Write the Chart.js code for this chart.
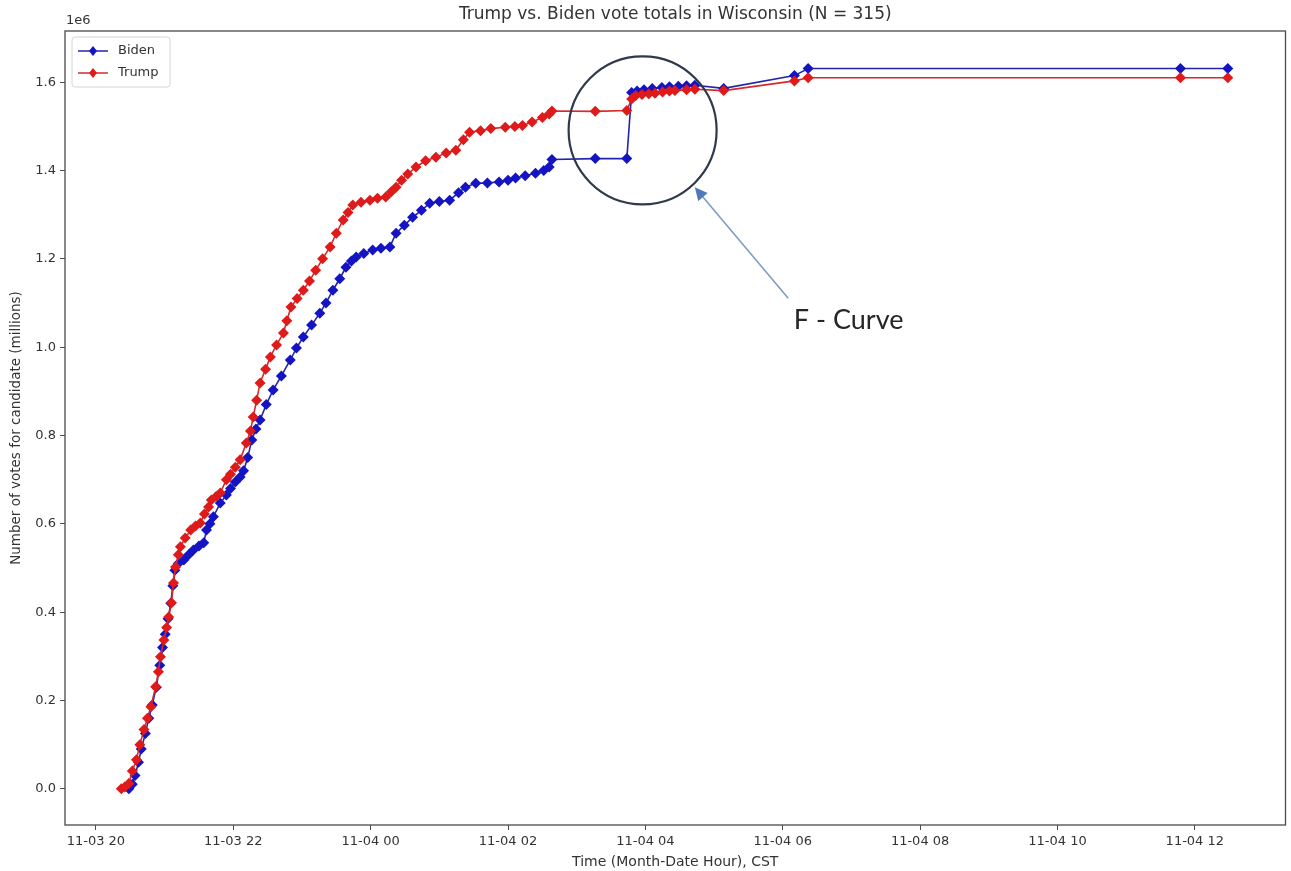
<!DOCTYPE html>
<html>
<head>
<meta charset="utf-8">
<script src="https://cdn.jsdelivr.net/npm/chart.js@4.4.1/dist/chart.umd.min.js"></script>
<style>
	html, body { margin: 0; padding: 0; background: #fff; }
	canvas { display: block; }
</style>
</head>
<body>
<canvas id="chart" width="1291" height="871"></canvas>
<script>
"use strict";

// hours counted from 11-03 00:00 CST, votes in millions (axis shows 1e6)
const bidenHours = [
	20.48, 20.53, 20.57, 20.62, 20.66, 20.72, 20.77, 20.82, 20.88, 20.93, 20.97, 21.01, 21.05, 21.09,
	21.12, 21.15, 21.2, 21.28, 21.35, 21.42, 21.5, 21.57, 21.61, 21.66, 21.71, 21.81, 21.9, 21.96,
	22.03, 22.1, 22.15, 22.21, 22.27, 22.33, 22.39, 22.48, 22.58, 22.7, 22.83, 22.92, 23.02, 23.14,
	23.26, 23.35, 23.45, 23.55, 23.64, 23.72, 23.79, 23.9, 24.03, 24.15, 24.28, 24.37, 24.49, 24.61,
	24.74, 24.86, 25.0, 25.15, 25.28, 25.38, 25.53, 25.7, 25.87, 26.0, 26.11, 26.25, 26.4, 26.52,
	26.6, 26.64, 27.27, 27.73, 27.8, 27.88, 27.98, 28.1, 28.24, 28.35, 28.48, 28.6, 28.72, 29.14,
	30.17, 30.37, 35.79, 36.48,
];
const bidenVotes = [
	0.0, 0.01, 0.03, 0.06, 0.09, 0.125, 0.16, 0.19, 0.23, 0.28, 0.32, 0.35, 0.385, 0.42,
	0.46, 0.495, 0.51, 0.518, 0.53, 0.541, 0.55, 0.557, 0.586, 0.6, 0.616, 0.647, 0.665, 0.68,
	0.695, 0.706, 0.72, 0.75, 0.79, 0.815, 0.835, 0.87, 0.903, 0.935, 0.971, 0.998, 1.023, 1.05,
	1.077, 1.1, 1.129, 1.155, 1.181, 1.195, 1.204, 1.212, 1.22, 1.224, 1.227, 1.258, 1.276, 1.294,
	1.31, 1.326, 1.33, 1.333, 1.35, 1.362, 1.371, 1.372, 1.374, 1.378, 1.383, 1.388, 1.394, 1.4,
	1.408, 1.425, 1.427, 1.427, 1.577, 1.58, 1.583, 1.586, 1.588, 1.59, 1.591, 1.592, 1.593, 1.586,
	1.615, 1.631, 1.631, 1.631,
];
const trumpHours = [
	20.37, 20.42, 20.48, 20.53, 20.59, 20.64, 20.7, 20.75, 20.8, 20.87, 20.91, 20.94, 20.99, 21.03,
	21.06, 21.1, 21.13, 21.16, 21.2, 21.23, 21.3, 21.38, 21.45, 21.52, 21.58, 21.64, 21.68, 21.75,
	21.81, 21.9, 21.96, 22.03, 22.1, 22.19, 22.25, 22.29, 22.34, 22.39, 22.47, 22.54, 22.63, 22.73,
	22.78, 22.84, 22.93, 23.02, 23.11, 23.2, 23.3, 23.41, 23.5, 23.6, 23.67, 23.74, 23.86, 23.99,
	24.1, 24.22, 24.3, 24.37, 24.45, 24.54, 24.66, 24.8, 24.95, 25.1, 25.24, 25.35, 25.44, 25.6,
	25.75, 25.96, 26.1, 26.21, 26.35, 26.5, 26.6, 26.64, 27.27, 27.73, 27.8, 27.86, 27.95, 28.05,
	28.14, 28.25, 28.35, 28.43, 28.6, 28.72, 29.14, 30.17, 30.37, 35.79, 36.48,
];
const trumpVotes = [
	0.0, 0.004, 0.012, 0.04, 0.066, 0.1, 0.134, 0.16, 0.186, 0.231, 0.265, 0.299, 0.337, 0.365,
	0.389, 0.421, 0.466, 0.502, 0.53, 0.548, 0.568, 0.586, 0.595, 0.602, 0.622, 0.638, 0.654, 0.662,
	0.67, 0.7, 0.712, 0.728, 0.745, 0.783, 0.81, 0.842, 0.88, 0.919, 0.95, 0.978, 1.005, 1.032,
	1.06, 1.091, 1.11, 1.129, 1.15, 1.174, 1.2, 1.227, 1.258, 1.288, 1.305, 1.322, 1.328, 1.333,
	1.337, 1.34, 1.352, 1.362, 1.378, 1.392, 1.408, 1.422, 1.43, 1.44, 1.446, 1.47, 1.487, 1.49,
	1.495, 1.498, 1.5, 1.502, 1.51, 1.52, 1.528, 1.535, 1.534, 1.536, 1.562, 1.57, 1.572, 1.574,
	1.575, 1.578, 1.58, 1.581, 1.583, 1.584, 1.581, 1.603, 1.61, 1.61, 1.61,
];
const xTickHours = [20, 22, 24, 26, 28, 30, 32, 34, 36];
const yTickValues = [0, 0.2, 0.4, 0.6, 0.8, 1.0, 1.2, 1.4, 1.6];

// annotation (circle + arrow + text), anchored in data units
const noteCircle = { x: 27.96, y: 1.491, r: 74 };
const noteArrow = { fromX: 30.08, fromY: 1.111, toX: 28.72, toY: 1.362 };
const noteText = { x: 30.96, y: 1.061, text: "F - Curve" };

const FONT = "'DejaVu Sans', sans-serif";
const BLUE = "#1414c4";
const RED = "#de1a1a";

function hourLabel(h) {
	const day = h < 24 ? "11-03" : "11-04";
	const hr = h % 24;
	return day + " " + String(hr).padStart(2, "0");
}

const decorations = {
	id: "decorations",
	afterDraw(chart) {
		const { ctx, chartArea: a, scales } = chart;
		const px = (v) => scales.x.getPixelForValue(v);
		const py = (v) => scales.y.getPixelForValue(v);
		ctx.save();

		// frame
		ctx.strokeStyle = "#4a4a4a";
		ctx.lineWidth = 1.3;
		ctx.strokeRect(a.left, a.top, a.right - a.left, a.bottom - a.top);

		// title + offset text
		ctx.fillStyle = "#333";
		ctx.font = "17px " + FONT;
		ctx.textAlign = "center";
		ctx.textBaseline = "middle";
		ctx.fillText("Trump vs. Biden vote totals in Wisconsin (N = 315)", (a.left + a.right) / 2, 15);
		ctx.font = "13px " + FONT;
		ctx.textAlign = "left";
		ctx.fillText("1e6", a.left + 1, 21);

		// legend
		const lx = a.left + 7, ly = a.top + 6;
		ctx.fillStyle = "rgba(255,255,255,0.85)";
		ctx.strokeStyle = "#d4d4d4";
		ctx.lineWidth = 1;
		ctx.beginPath();
		ctx.roundRect(lx, ly, 98, 50, 3);
		ctx.fill();
		ctx.stroke();
		chart.data.datasets.forEach((ds, i) => {
			const y = ly + 14 + i * 22;
			ctx.strokeStyle = ds.borderColor;
			ctx.lineWidth = 1.5;
			ctx.beginPath();
			ctx.moveTo(lx + 6, y);
			ctx.lineTo(lx + 36, y);
			ctx.stroke();
			ctx.fillStyle = ds.pointBackgroundColor;
			ctx.beginPath();
			ctx.moveTo(lx + 21, y - 5);
			ctx.lineTo(lx + 25, y);
			ctx.lineTo(lx + 21, y + 5);
			ctx.lineTo(lx + 17, y);
			ctx.closePath();
			ctx.fill();
			ctx.fillStyle = "#333";
			ctx.font = "13px " + FONT;
			ctx.textAlign = "left";
			ctx.fillText(ds.label, lx + 46, y);
		});

		// F-curve circle
		ctx.strokeStyle = "#2c3a4c";
		ctx.lineWidth = 2.2;
		ctx.beginPath();
		ctx.arc(px(noteCircle.x), py(noteCircle.y), noteCircle.r, 0, Math.PI * 2);
		ctx.stroke();

		// arrow
		const x1 = px(noteArrow.fromX), y1 = py(noteArrow.fromY);
		const x2 = px(noteArrow.toX), y2 = py(noteArrow.toY);
		const ang = Math.atan2(y2 - y1, x2 - x1);
		ctx.strokeStyle = "#7f9cc4";
		ctx.fillStyle = "#4f79b8";
		ctx.lineWidth = 1.6;
		ctx.beginPath();
		ctx.moveTo(x1, y1);
		ctx.lineTo(x2 - Math.cos(ang) * 8, y2 - Math.sin(ang) * 8);
		ctx.stroke();
		ctx.beginPath();
		ctx.moveTo(x2, y2);
		ctx.lineTo(x2 - Math.cos(ang - 0.45) * 14, y2 - Math.sin(ang - 0.45) * 14);
		ctx.lineTo(x2 - Math.cos(ang + 0.45) * 14, y2 - Math.sin(ang + 0.45) * 14);
		ctx.closePath();
		ctx.fill();

		ctx.fillStyle = "#262626";
		ctx.font = "27px Lato, 'Open Sans', sans-serif";
		ctx.textAlign = "center";
		ctx.textBaseline = "middle";
		ctx.fillText(noteText.text, px(noteText.x), py(noteText.y));
		ctx.restore();
	},
};

const toPoints = (xs, ys) => xs.map((x, i) => ({ x, y: ys[i] }));

new Chart(document.getElementById("chart").getContext("2d"), {
	type: "line",
	data: {
		datasets: [
			{
				label: "Biden",
				data: toPoints(bidenHours, bidenVotes),
				borderColor: "#2424a8",
				backgroundColor: BLUE,
				pointBackgroundColor: BLUE,
				pointBorderColor: BLUE,
				order: 2,
			},
			{
				label: "Trump",
				data: toPoints(trumpHours, trumpVotes),
				borderColor: "#d42a2a",
				backgroundColor: RED,
				pointBackgroundColor: RED,
				pointBorderColor: RED,
				order: 1,
			},
		],
	},
	options: {
		responsive: false,
		animation: false,
		layout: { padding: { top: 31, right: 5, left: 0, bottom: 0 } },
		elements: {
			line: { borderWidth: 1.6, tension: 0, fill: false },
			point: { pointStyle: "rectRot", radius: 5.5, borderWidth: 0 },
		},
		scales: {
			x: {
				type: "linear",
				min: 19.55,
				max: 37.32,
				afterBuildTicks(scale) {
					scale.ticks = xTickHours.map((v) => ({ value: v }));
				},
				afterFit(scale) {
					scale.height = 46;
				},
				ticks: {
					callback: (v) => hourLabel(v),
					color: "#333",
					font: { family: FONT, size: 13 },
					padding: 4,
					maxRotation: 0,
				},
				grid: { drawOnChartArea: false, drawTicks: true, tickLength: 5, color: "#4a4a4a" },
				border: { display: false },
				title: {
					display: true,
					text: "Time (Month-Date Hour), CST",
					color: "#333",
					font: { family: FONT, size: 14 },
					padding: { top: 1, bottom: 0 },
				},
			},
			y: {
				type: "linear",
				min: -0.082,
				max: 1.716,
				afterBuildTicks(scale) {
					scale.ticks = yTickValues.map((v) => ({ value: v }));
				},
				afterFit(scale) {
					scale.width = 65;
				},
				ticks: {
					callback: (v) => v.toFixed(1),
					color: "#333",
					font: { family: FONT, size: 13 },
					padding: 4,
				},
				grid: { drawOnChartArea: false, drawTicks: true, tickLength: 5, color: "#4a4a4a" },
				border: { display: false },
				title: {
					display: true,
					text: "Number of votes for candidate (millions)",
					color: "#333",
					font: { family: FONT, size: 13.5 },
					padding: { top: 8, bottom: 0 },
				},
			},
		},
		plugins: {
			legend: { display: false },
			tooltip: { enabled: false },
		},
	},
	plugins: [decorations],
});
</script>
</body>
</html>
